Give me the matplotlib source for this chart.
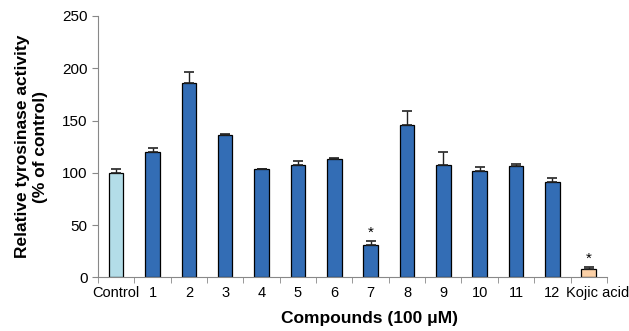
import numpy as np
import matplotlib
matplotlib.use('Agg')
import matplotlib.pyplot as plt
from matplotlib.transforms import ScaledTranslation

plt.rcParams['font.family'] = ['Liberation Sans', 'DejaVu Sans']

labels = ['Control', '1', '2', '3', '4', '5', '6', '7', '8', '9', '10', '11', '12', 'Kojic acid']
values = [100, 120, 186, 136.5, 103.5, 107.5, 113, 31, 145.5, 107.5, 101.5, 106.5, 91, 7.7]
errors = [3.3, 4, 10, 1, 0.5, 4, 1, 3.5, 14, 12.5, 4, 2.2, 4.4, 2]
starred = ['7', 'Kojic acid']
colors = ['#B3DDE8'] + ['#336DB5'] * 12 + ['#FBD0A6']

fig = plt.figure(figsize=(6.29, 3.31), dpi=100)
ax = fig.add_axes([0.1558, 0.1622, 0.809, 0.7895])

x = np.arange(len(labels))
ax.bar(x, values, width=0.4, color=colors, edgecolor='black', linewidth=0.9,
       yerr=[np.zeros(len(errors)), errors], capsize=3.5,
       error_kw=dict(ecolor='#222222', elinewidth=1, capthick=1.2))

for i, lab in enumerate(labels):
    if lab in starred:
        ax.text(i, values[i] + errors[i] + 1.5, '*', ha='center', va='bottom', fontsize=11)

ax.set_xlim(-0.5, len(labels) - 0.5)
ax.set_ylim(0, 250)
ax.set_yticks([0, 50, 100, 150, 200, 250])
ax.set_xticks(x)
ax.set_xticklabels(labels, fontsize=10.5)
ax.set_xticks(np.arange(-0.5, len(labels), 1), minor=True)
ax.tick_params(axis='x', which='major', length=0, pad=6)
ax.tick_params(axis='x', which='minor', length=4, color='#888888')
ax.tick_params(axis='y', labelsize=11, length=4, color='#888888')

# last label runs off the right edge in the original, shift it a bit
last = ax.get_xticklabels()[-1]
last.set_transform(last.get_transform() + ScaledTranslation(0.09, 0, fig.dpi_scale_trans))

for s in ['top', 'right']:
    ax.spines[s].set_visible(False)
for s in ['left', 'bottom']:
    ax.spines[s].set_color('#888888')

ax.set_ylabel('Relative tyrosinase activity\n(% of control)', fontsize=12.5, fontweight='bold', linespacing=1.3)
ax.yaxis.set_label_coords(-0.098, 0.5)
ax.set_xlabel('Compounds (100 μM)', fontsize=12.5, fontweight='bold')
ax.xaxis.set_label_coords(0.534, -0.128)

fig.savefig('out.png', dpi=100)
